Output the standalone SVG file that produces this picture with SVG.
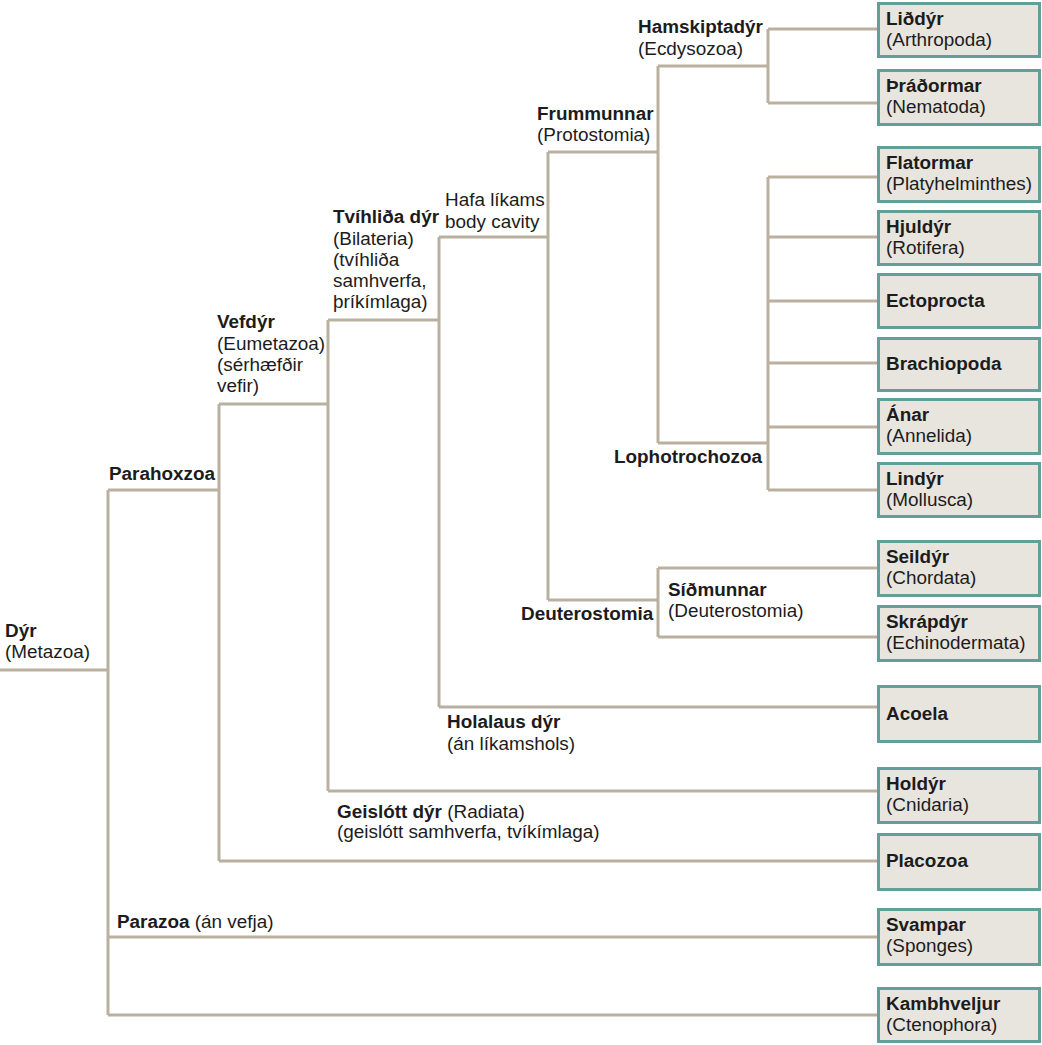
<svg xmlns="http://www.w3.org/2000/svg" width="1042" height="1045" viewBox="0 0 1042 1045">
<style>
text{font-family:"Liberation Sans",Arial,sans-serif;font-size:18.9px;fill:#1c1c1c}
.b{font-weight:bold}
.box{fill:#e8e5de;stroke:#629f9a;stroke-width:3}
.ln{fill:none;stroke:#b9b09f;stroke-width:3}
</style>
<rect width="1042" height="1045" fill="#ffffff"/>
<g id="connectors" class="ln">
<path d="M0 670H108M108 490V1015M108 490H219M108 937H877M108 1015H877"/>
<path d="M219 404V861M219 404H328M219 861H877"/>
<path d="M328 320V791M328 320H439M328 791H877"/>
<path d="M439 237V707M439 237H548M439 707H877"/>
<path d="M548 152V600M548 152H658M548 600H658"/>
<path d="M658 66V443M658 66H768M658 443H768"/>
<path d="M768 29V103M768 29H877M768 103H877"/>
<path d="M768 177V490M768 177H877M768 237H877M768 301H877M768 363H877M768 427H877M768 490H877"/>
<path d="M658 568V637M658 568H877M658 637H877"/>
</g>
<g id="labels">
<g id="metazoa"><text x="5" y="637" class="b">Dýr</text><text x="5" y="658">(Metazoa)</text></g>
<g id="parahoxzoa"><text x="109" y="480" class="b">Parahoxzoa</text></g>
<g id="eumetazoa"><text x="217" y="328" class="b">Vefdýr</text><text x="217" y="350">(Eumetazoa)</text><text x="217" y="371">(sérhæfðir</text><text x="217" y="392">vefir)</text></g>
<g id="bilateria"><text x="333" y="223" class="b">Tvíhliða dýr</text><text x="333" y="245">(Bilateria)</text><text x="333" y="266">(tvíhliða</text><text x="333" y="287">samhverfa,</text><text x="333" y="308">þríkímlaga)</text></g>
<g id="bodycavity"><text x="445" y="206">Hafa líkams</text><text x="445" y="228">body cavity</text></g>
<g id="protostomia"><text x="537" y="120" class="b">Frummunnar</text><text x="537" y="141">(Protostomia)</text></g>
<g id="ecdysozoa"><text x="638" y="33" class="b">Hamskiptadýr</text><text x="638" y="55">(Ecdysozoa)</text></g>
<g id="lophotrochozoa"><text x="614" y="463" class="b">Lophotrochozoa</text></g>
<g id="deuterostomia"><text x="521" y="620" class="b">Deuterostomia</text></g>
<g id="sidmunnar"><text x="668" y="596" class="b">Síðmunnar</text><text x="668" y="617">(Deuterostomia)</text></g>
<g id="holalaus"><text x="447" y="728" class="b">Holalaus dýr</text><text x="447" y="750">(án líkamshols)</text></g>
<g id="radiata"><text x="337" y="818"><tspan class="b">Geislótt dýr</tspan> (Radiata)</text><text x="337" y="838">(geislótt samhverfa, tvíkímlaga)</text></g>
<g id="parazoa"><text x="117" y="928"><tspan class="b">Parazoa</tspan> (án vefja)</text></g>
</g>
<g id="leaves">
<g id="arthropoda"><rect class="box" x="878.5" y="3.5" width="161" height="53"/><text x="886" y="25" class="b">Liðdýr</text><text x="886" y="46">(Arthropoda)</text></g>
<g id="nematoda"><rect class="box" x="878.5" y="70.5" width="161" height="54"/><text x="886" y="92" class="b">Þráðormar</text><text x="886" y="113">(Nematoda)</text></g>
<g id="platyhelminthes"><rect class="box" x="878.5" y="147.5" width="161" height="54"/><text x="886" y="169" class="b">Flatormar</text><text x="886" y="190">(Platyhelminthes)</text></g>
<g id="rotifera"><rect class="box" x="878.5" y="211.5" width="161" height="53"/><text x="886" y="233" class="b">Hjuldýr</text><text x="886" y="254">(Rotifera)</text></g>
<g id="ectoprocta"><rect class="box" x="878.5" y="274.5" width="161" height="53"/><text x="886" y="307" class="b">Ectoprocta</text></g>
<g id="brachiopoda"><rect class="box" x="878.5" y="338.5" width="161" height="52"/><text x="886" y="370" class="b">Brachiopoda</text></g>
<g id="annelida"><rect class="box" x="878.5" y="399.5" width="161" height="54"/><text x="886" y="421" class="b">Ánar</text><text x="886" y="442">(Annelida)</text></g>
<g id="mollusca"><rect class="box" x="878.5" y="463.5" width="161" height="53"/><text x="886" y="485" class="b">Lindýr</text><text x="886" y="506">(Mollusca)</text></g>
<g id="chordata"><rect class="box" x="878.5" y="541.5" width="161" height="54"/><text x="886" y="563" class="b">Seildýr</text><text x="886" y="584">(Chordata)</text></g>
<g id="echinodermata"><rect class="box" x="878.5" y="606.5" width="161" height="54"/><text x="886" y="628" class="b">Skrápdýr</text><text x="886" y="649">(Echinodermata)</text></g>
<g id="acoela"><rect class="box" x="878.5" y="686.5" width="161" height="55"/><text x="886" y="720" class="b">Acoela</text></g>
<g id="cnidaria"><rect class="box" x="878.5" y="768.5" width="161" height="54"/><text x="886" y="790" class="b">Holdýr</text><text x="886" y="811">(Cnidaria)</text></g>
<g id="placozoa"><rect class="box" x="878.5" y="834.5" width="161" height="55"/><text x="886" y="867" class="b">Placozoa</text></g>
<g id="sponges"><rect class="box" x="878.5" y="909.5" width="161" height="55"/><text x="886" y="931" class="b">Svampar</text><text x="886" y="952">(Sponges)</text></g>
<g id="ctenophora"><rect class="box" x="878.5" y="988.5" width="161" height="53"/><text x="886" y="1010" class="b">Kambhveljur</text><text x="886" y="1031">(Ctenophora)</text></g>
</g>
</svg>
